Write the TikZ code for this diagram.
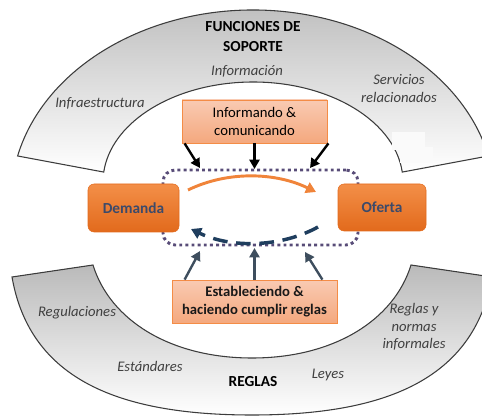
\documentclass[tikz,border=0pt]{standalone}
\usepackage{fontspec}
\setmainfont{Carlito}
\usetikzlibrary{arrows.meta,calc}
\definecolor{bandline}{RGB}{60,60,60}
\definecolor{bandtop}{RGB}{186,186,186}
\definecolor{bandmid}{RGB}{228,228,228}
\definecolor{bandmid2}{RGB}{214,214,214}
\definecolor{orgtop}{RGB}{243,143,72}
\definecolor{orgbot}{RGB}{226,106,28}
\definecolor{peachtop}{RGB}{249,202,178}
\definecolor{peachbot}{RGB}{244,168,126}
\definecolor{peachline}{RGB}{244,140,70}
\definecolor{loopcol}{RGB}{88,76,120}
\definecolor{navy}{RGB}{31,62,94}
\definecolor{slate}{RGB}{62,78,94}
\definecolor{flow}{RGB}{240,132,58}
\definecolor{dtext}{RGB}{60,74,106}
\definecolor{itext}{RGB}{64,64,64}
\definecolor{ghost}{RGB}{250,250,250}
\begin{document}
\begin{tikzpicture}[x=0.75pt,y=-0.75pt,
  band/.style={draw=bandline,line width=0.8pt},
  lbl/.style={font=\fontsize{11}{13}\selectfont\itshape,text=itext,align=center,inner sep=0pt},
  ttl/.style={font=\fontsize{11.5}{15}\selectfont\bfseries,align=center,inner sep=0pt},
  actbox/.style={draw=peachline,line width=0.6pt,top color=peachtop,bottom color=peachbot,
    align=center,font=\fontsize{11}{13.5}\selectfont,inner sep=0pt},
  agent/.style={rounded corners=4.5pt,top color=orgtop,bottom color=orgbot,draw=orgbot,
    line width=0.4pt,text=dtext,font=\fontsize{11.5}{14}\selectfont\bfseries,inner sep=0pt},
  looprect/.style={draw=loopcol,line width=2.2pt,dash pattern=on 2.2pt off 2.4pt,
    rounded corners=9pt,inner sep=0pt,outer sep=0pt},
  tarrow/.style={draw=black,line width=1.8pt,-{Triangle[length=7pt,width=7.5pt]}},
  barrow/.style={draw=slate,line width=1.8pt,-{Triangle[length=7pt,width=7.5pt]}},
  flowarrow/.style={draw=flow,line width=2.2pt,-{Triangle[length=7.5pt,width=8.5pt]}},
  dasharrow/.style={draw=navy,line width=2.6pt,dash pattern=on 11pt off 6.5pt,
    -{Triangle[length=7.5pt,width=8.5pt]}},
]
\useasboundingbox (0,0) rectangle (482,417);

% top band (support functions)
\path[band, top color=bandtop, middle color=bandmid, bottom color=white]
  ($(253,200)+(193.4:242 and 190)$)
  arc[start angle=193.4, end angle=346.6, x radius=242, y radius=190]
  -- ($(253,182)+(354.3:150 and 100)$)
  arc[start angle=354.3, end angle=185.7, x radius=150, y radius=100]
  -- cycle;
\fill[ghost] (392,132) rectangle (425,150);
\fill[ghost] (400,147) rectangle (433,163);

% bottom band (rules)
\path[band, top color=bandtop, middle color=bandmid2, bottom color=white]
  (12,277) .. controls (30,380) and (120,415) .. (252,415)
  .. controls (384,415) and (474,380) .. (492,277)
  -- (411,265) .. controls (394,320) and (334,358) .. (252,358)
  .. controls (170,358) and (110,320) .. (93,265) -- cycle;

% band labels
\node[ttl] (fs) at (253,37) {FUNCIONES DE\\SOPORTE};
\node[lbl] (inf) at (247,71) {Información};
\node[lbl] (infra) at (100,103) {Infraestructura};
\node[lbl] (serv) at (399,88.5) {Servicios\\relacionados};
\node[lbl] (reg) at (77,313) {Regulaciones};
\node[lbl] (estd) at (150,366) {Estándares};
\node[ttl] (reglas) at (253,382) {REGLAS};
\node[lbl] (ley) at (328,375) {Leyes};
\node[lbl] (rni) at (414,327) {Reglas y\\normas\\informales};

% central loop
\node[looprect, minimum width=146.25pt, minimum height=56.25pt] (loop) at (260.5,207.5) {};
\node[agent, minimum width=68.25pt, minimum height=36pt] (dem) at (133.5,208) {Demanda};
\node[agent, minimum width=66pt, minimum height=35.25pt] (ofe) at (382,207.5) {Oferta};

\coordinate (fa) at (188,190);
\coordinate (fb) at (316,192);
\draw[flowarrow] (fa) .. controls (228,170.5) and (276,172.5) .. (fb);
\coordinate (da) at (318,227);
\coordinate (db) at (191,229);
\draw[dasharrow] (da) .. controls (280,248) and (230,248) .. (db);

% function boxes
\node[actbox, minimum width=108.75pt, minimum height=32.25pt] (info) at (254.5,121.5)
  {Informando \&\\comunicando};
\node[actbox, font=\fontsize{11}{13.5}\selectfont\bfseries, text=black!90,
  minimum width=123.75pt, minimum height=32.25pt] (est) at (254.5,301.5)
  {Estableciendo \&\\haciendo cumplir reglas};

\draw[tarrow] ($(info.south west)+(3,0)$) -- ($(loop.north)+(-60.5,-2)$);
\draw[tarrow] (info.south) -- ($(info.south|-loop.north)+(0,-1)$);
\draw[tarrow] ($(info.south east)+(1,0)$) -- ($(loop.north)+(49.5,-2)$);

\draw[barrow] ($(est.north west)+(13,0)$) -- ($(loop.south)+(-60.5,6)$);
\draw[barrow] (est.north) -- ($(est.north|-loop.south)+(0,3)$);
\draw[barrow] ($(est.north east)+(-15,0)$) -- ($(loop.south)+(44.5,7)$);
\end{tikzpicture}
\end{document}
